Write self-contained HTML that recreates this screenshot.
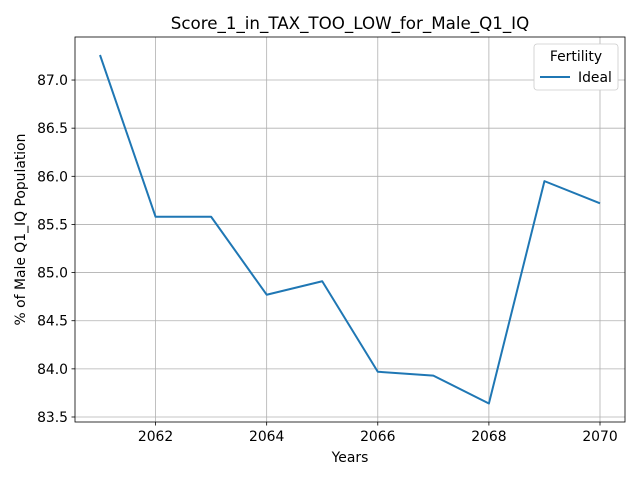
<!DOCTYPE html>
<html><head><meta charset="utf-8"><style>
body{margin:0;background:#fff;font-family:"Liberation Sans","DejaVu Sans",sans-serif}
</style></head><body>
<svg id="chart" width="640" height="480" xmlns="http://www.w3.org/2000/svg" font-family="DejaVu Sans, Liberation Sans, sans-serif"></svg>
<script>
const years=[2061,2062,2063,2064,2065,2066,2067,2068,2069,2070];
const idealValues=[87.26,85.58,85.58,84.77,84.91,83.97,83.93,83.64,85.95,85.72];
const xTicks=[2062,2064,2066,2068,2070];
const yTicks=[83.5,84.0,84.5,85.0,85.5,86.0,86.5,87.0];
const L=75,R=625,T=37,B=422;
const xMin=2060.55,xMax=2070.45,yMin=83.448,yMax=87.447;
const xs=v=>L+(v-xMin)/(xMax-xMin)*(R-L);
const ys=v=>B-(v-yMin)/(yMax-yMin)*(B-T);
const svg=document.getElementById('chart');
const NS='http://www.w3.org/2000/svg';
function mk(tag,attrs,parent){const e=document.createElementNS(NS,tag);for(const k in attrs)e.setAttribute(k,attrs[k]);(parent||svg).appendChild(e);return e;}
const grid=mk('g',{});


xTicks.forEach(t=>{
  const x=xs(t);
  mk('line',{x1:x,x2:x,y1:T,y2:B,stroke:'#b0b0b0','stroke-width':0.8},grid);
  mk('line',{x1:x,x2:x,y1:B,y2:B+3.5,stroke:'#000','stroke-width':0.8});
  const tx=mk('text',{x:x,y:B+19,'text-anchor':'middle','font-size':13.9});
  tx.textContent=t;
  
  
});
yTicks.forEach(t=>{
  const y=ys(t);
  mk('line',{x1:L,x2:R,y1:y,y2:y,stroke:'#b0b0b0','stroke-width':0.8},grid);
  mk('line',{x1:L-3.5,x2:L,y1:y,y2:y,stroke:'#000','stroke-width':0.8});
  const tx=mk('text',{x:L-7,y:y+5,'text-anchor':'end','font-size':13.9});
  tx.textContent=t.toFixed(1);
  
  
});
const line=mk('polyline',{points:years.map((y,i)=>xs(y)+','+ys(idealValues[i])).join(' '),fill:'none',stroke:'#1f77b4','stroke-width':2,'stroke-linejoin':'round'});


const frame=mk('rect',{x:L,y:T,width:R-L,height:B-T,fill:'none',stroke:'#000','stroke-width':0.8});


const title=mk('text',{x:(L+R)/2,y:29,'text-anchor':'middle','font-size':16.7});
title.textContent='Score_1_in_TAX_TOO_LOW_for_Male_Q1_IQ';


const xl=mk('text',{x:(L+R)/2,y:462,'text-anchor':'middle','font-size':13.9});
xl.textContent='Years';


const yl=mk('text',{x:0,y:0,'text-anchor':'middle','font-size':13.9,transform:'translate(25,'+((T+B)/2)+') rotate(-90)'});
yl.textContent='% of Male Q1_IQ Population';


const lg=mk('g',{});


mk('rect',{x:534,y:44,width:84,height:46,rx:3,fill:'#fff',stroke:'#ccc','stroke-width':0.8},lg);
const lt=mk('text',{x:576,y:61,'text-anchor':'middle','font-size':13.9},lg);
lt.textContent='Fertility';


mk('line',{x1:540,x2:570,y1:77,y2:77,stroke:'#1f77b4','stroke-width':2},lg);
const le=mk('text',{x:578,y:82,'font-size':13.9},lg);
le.textContent='Ideal';


</script>
</body></html>
